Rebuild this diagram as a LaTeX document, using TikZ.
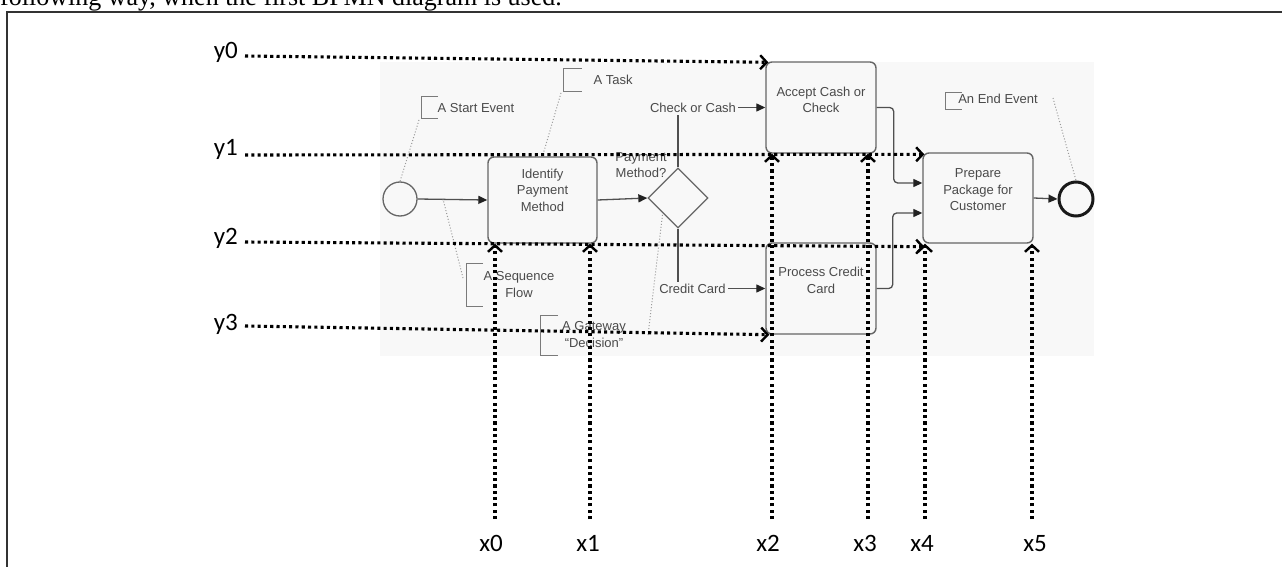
\documentclass[tikz,border=0pt]{standalone}
\usepackage{fontspec}
\setmainfont{Liberation Serif}
\newfontfamily\arialf{Liberation Sans}
\newfontfamily\calf{Carlito}
\usetikzlibrary{arrows.meta,shapes.geometric,calc}
\definecolor{bgc}{HTML}{F8F8F8}
\definecolor{bpline}{HTML}{666666}
\definecolor{flowc}{HTML}{505050}
\definecolor{tipc}{HTML}{222222}
\definecolor{bptxt}{HTML}{4A4A4A}
\definecolor{anc}{HTML}{7A7A7A}
\definecolor{asc}{HTML}{9A9A9A}
\definecolor{framec}{HTML}{333333}
\begin{document}
\begin{tikzpicture}[x=1pt,y=-1pt,
  bpt/.style={font=\arialf\fontsize{13}{16.5}\selectfont, text=bptxt, align=center, inner sep=0pt},
  bpbox/.style={draw=bpline, line width=1.4pt, rounded corners=6pt, inner sep=0pt, minimum width=#1},
  flow/.style={draw=flowc, line width=1.3pt, -{Triangle[length=9pt,width=8pt,color=tipc,fill=tipc]}},
  annot/.style={draw=anc, line width=1pt},
  assoc/.style={draw=asc, line width=1pt, dash pattern=on 1pt off 2pt},
  ov/.style={black, line width=3.1pt, dash pattern=on 3.1pt off 3.2pt,
     -{Straight Barb[length=6.5pt,width=14pt,line width=2.4pt]}},
  axl/.style={font=\calf\fontsize{25}{25}\selectfont, inner sep=0pt, anchor=base}
]
\useasboundingbox (0,0) rectangle (1282,567);
\clip (0,0) rectangle (1282,567);

% caption text and frame
\node[anchor=base west, inner sep=0pt, font=\fontsize{26}{26}\selectfont] (cap) at (0,5.5) {following way, when the first BPMN diagram is used.};
\draw[framec, line width=1.5pt] (7,580) -- (7,12) -- (1295,12);

% screenshot background
\fill[bgc] (380,62) rectangle (1094,356);

% BPMN nodes
\node[circle, draw=bpline, line width=1.3pt, minimum size=34pt, inner sep=0pt] (Start) at (400,199) {};
\node[bpbox=109pt, minimum height=86pt, label={[bpt,yshift=10pt]center:Identify\\Payment\\Method}] (Identify) at (542.5,200) {};
\node[diamond, draw=bpline, line width=1.3pt, minimum width=60pt, minimum height=60pt, inner sep=0pt] (gw) at (678,198) {};
\node[bpbox=110pt, minimum height=91pt, label={[bpt,yshift=7.5pt]center:Accept Cash or\\Check}] (Accept) at (821,107.5) {};
\node[bpbox=110pt, minimum height=91pt, label={[bpt,yshift=8pt]center:Process Credit\\Card}] (Process) at (821,288.5) {};
\node[bpbox=110pt, minimum height=90pt, label={[bpt,yshift=8pt]center:Prepare\\Package for\\Customer}] (Prepare) at (978,198) {};
\node[circle, draw=black!90, line width=3pt, minimum size=34pt, inner sep=0pt] (End) at (1076,199) {};
\node[bpt] (pm) at (641,165) {Payment\\Method?};

% sequence flows
\draw[flow] (Start.east) -- (Identify.west);
\draw[flow] (Identify.east) -- (gw.west);
\draw[flow] (gw.north) |- (Accept.west);
\draw[flow] (gw.south) |- (Process.west);
\node[bpt, fill=bgc, inner sep=2pt] (cc) at (693,108) {Check or Cash};
\node[bpt, fill=bgc, inner sep=2pt] (crc) at (692.5,289) {Credit Card};
\draw[flow, rounded corners=4pt] (Accept.east) -- ++(17,0) |- ($(Prepare.west)+(0,-15)$);
\draw[flow, rounded corners=4pt] (Process.east) -- ++(16,0) |- ($(Prepare.west)+(0,15)$);
\draw[flow] (Prepare.east) -- (End.west);
\coordinate (sfp) at (443,199);

% annotations
\draw[annot] (438,97) -- (421,97) -- (421,119) -- (438,119);
\node[bpt] (aStart) at (476,108) {A Start Event};
\coordinate (aStartB) at (419,120);
\draw[assoc] (aStartB) -- (Start.north);

\draw[annot] (582,69) -- (563,69) -- (563,92) -- (582,92);
\node[bpt] (aTask) at (613,80) {A Task};
\coordinate (aTaskB) at (561,93);
\draw[assoc] (aTaskB) -- (Identify.north);

\draw[annot] (962,93) -- (945,93) -- (945,110) -- (962,110);
\node[bpt] (aEnd) at (998,99) {An End Event};
\coordinate (aEndB) at (1053,98);
\draw[assoc] (aEndB) -- (End.north);

\draw[annot] (483,263) -- (466,263) -- (466,306) -- (483,306);
\node[bpt] (aSeq) at (519,284.5) {A Sequence\\Flow};
\coordinate (aSeqB) at (463,278);
\draw[assoc] (aSeqB) -- (sfp);

\draw[annot] (558,315) -- (540,315) -- (540,355) -- (558,355);
\node[bpt] (aGw) at (594,334.5) {A Gateway\\“Decision”};
\coordinate (aGwB) at (648,335);
\draw[assoc] (aGwB) -- (gw.south west);

% overlay labels
\node[axl, anchor=base east] (y0) at (238,59) {y0};
\node[axl, anchor=base east] (y1) at (238,155) {y1};
\node[axl, anchor=base east] (y2) at (238,244) {y2};
\node[axl, anchor=base east] (y3) at (238,330) {y3};
\node[axl] (x0) at (491,551) {x0};
\node[axl] (x1) at (588,551) {x1};
\node[axl] (x2) at (768,551) {x2};
\node[axl] (x3) at (865,551) {x3};
\node[axl] (x4) at (922,551) {x4};
\node[axl] (x5) at (1035,551) {x5};

\coordinate (y0s) at (245,56);
\coordinate (y1s) at (245,155);
\coordinate (y2s) at (245,242);
\coordinate (y3s) at (245,326);
\draw[ov] (y0s) -- ($(Accept.north west)+(3,1)$);
\draw[ov] (y1s) -- ($(Prepare.north west)+(2,2)$);
\draw[ov] (y2s) -- ($(Prepare.south west)+(2,3)$);
\draw[ov] (y3s) -- ($(Process.south west)+(4,0)$);

\coordinate (x0b) at (495,519);
\coordinate (x1b) at (590,519);
\coordinate (x2b) at (772,519);
\coordinate (x3b) at (868,519);
\coordinate (x4b) at (925,519);
\coordinate (x5b) at (1032,519);
\draw[ov] (x0b) -- (x0b |- Identify.south);
\draw[ov] (x1b) -- (x1b |- Identify.south);
\draw[ov] (x2b) -- (x2b |- Accept.south);
\draw[ov] (x3b) -- (x3b |- Accept.south);
\draw[ov] (x4b) -- (x4b |- Prepare.south);
\draw[ov] (x5b) -- (x5b |- Prepare.south);
\end{tikzpicture}
\end{document}
